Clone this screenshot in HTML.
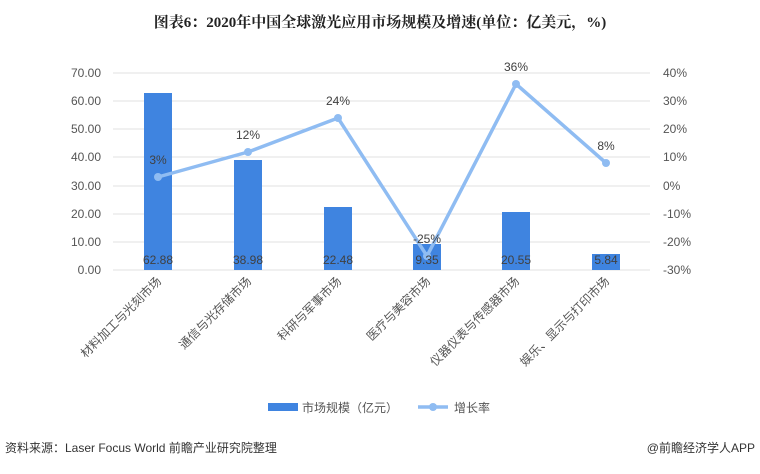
<!DOCTYPE html><html><head><meta charset="utf-8"><style>body{margin:0;background:#fff}svg text{font-family:"Liberation Sans","Noto Sans CJK SC",sans-serif}</style></head><body>
<svg width="760" height="469" viewBox="0 0 760 469" xmlns="http://www.w3.org/2000/svg">
<text x="380" y="27" text-anchor="middle" font-size="15" font-weight="bold" fill="#222" style="font-family:'Liberation Serif','Noto Serif CJK SC',serif">图表6：2020年中国全球激光应用市场规模及增速(单位：亿美元，%)</text>
<g stroke="#e2e2e2" stroke-width="1">
<line x1="113" x2="650" y1="73" y2="73"/><line x1="113" x2="650" y1="101" y2="101"/><line x1="113" x2="650" y1="129" y2="129"/><line x1="113" x2="650" y1="157" y2="157"/><line x1="113" x2="650" y1="186" y2="186"/><line x1="113" x2="650" y1="214" y2="214"/><line x1="113" x2="650" y1="242" y2="242"/><line x1="113" x2="650" y1="270" y2="270"/></g>
<g font-size="12" fill="#555" text-anchor="end">
<text x="101" y="77">70.00</text><text x="101" y="105">60.00</text><text x="101" y="133">50.00</text><text x="101" y="161">40.00</text><text x="101" y="190">30.00</text><text x="101" y="218">20.00</text><text x="101" y="246">10.00</text><text x="101" y="274">0.00</text></g>
<g font-size="12" fill="#555" text-anchor="start">
<text x="663" y="77">40%</text><text x="663" y="105">30%</text><text x="663" y="133">20%</text><text x="663" y="161">10%</text><text x="663" y="190">0%</text><text x="663" y="218">-10%</text><text x="663" y="246">-20%</text><text x="663" y="274">-30%</text></g>
<g fill="#3f84e0">
<rect x="144" y="93" width="28" height="177"/><rect x="234" y="160" width="28" height="110"/><rect x="324" y="207" width="28" height="63"/><rect x="413" y="244" width="28" height="26"/><rect x="502" y="212" width="28" height="58"/><rect x="592" y="254" width="28" height="16"/></g>
<polyline points="158,177 248,152 338,118 427,256 516,84 606,163" fill="none" stroke="#8fbcf2" stroke-width="3.5" stroke-linejoin="round"/>
<g fill="#8fbcf2"><circle cx="158" cy="177" r="4"/><circle cx="248" cy="152" r="4"/><circle cx="338" cy="118" r="4"/><circle cx="427" cy="256" r="4"/><circle cx="516" cy="84" r="4"/><circle cx="606" cy="163" r="4"/></g>
<g font-size="12" fill="#404040" text-anchor="middle">
<text x="158" y="264">62.88</text><text x="248" y="264">38.98</text><text x="338" y="264">22.48</text><text x="427" y="264">9.35</text><text x="516" y="264">20.55</text><text x="606" y="264">5.84</text>
<text x="158" y="164">3%</text><text x="248" y="139">12%</text><text x="338" y="105">24%</text><text x="427" y="243">-25%</text><text x="516" y="71">36%</text><text x="606" y="150">8%</text></g>
<g font-size="12" fill="#555" text-anchor="end">
<text transform="translate(162,282) rotate(-45)">材料加工与光刻市场</text>
<text transform="translate(252,282) rotate(-45)">通信与光存储市场</text>
<text transform="translate(342,282) rotate(-45)">科研与军事市场</text>
<text transform="translate(431,282) rotate(-45)">医疗与美容市场</text>
<text transform="translate(520,282) rotate(-45)">仪器仪表与传感器市场</text>
<text transform="translate(610,282) rotate(-45)">娱乐、显示与打印市场</text></g>
<rect x="268" y="403" width="30" height="8" fill="#3f84e0"/>
<text x="302" y="412" font-size="12" fill="#555">市场规模（亿元）</text>
<line x1="418" x2="448" y1="407" y2="407" stroke="#8fbcf2" stroke-width="3.5"/><circle cx="433" cy="407" r="4" fill="#8fbcf2"/>
<text x="454" y="412" font-size="12" fill="#555">增长率</text>
<text x="5" y="452" font-size="12" fill="#333">资料来源：Laser Focus World 前瞻产业研究院整理</text>
<text x="755" y="452" font-size="12" fill="#333" text-anchor="end">@前瞻经济学人APP</text>
</svg></body></html>
